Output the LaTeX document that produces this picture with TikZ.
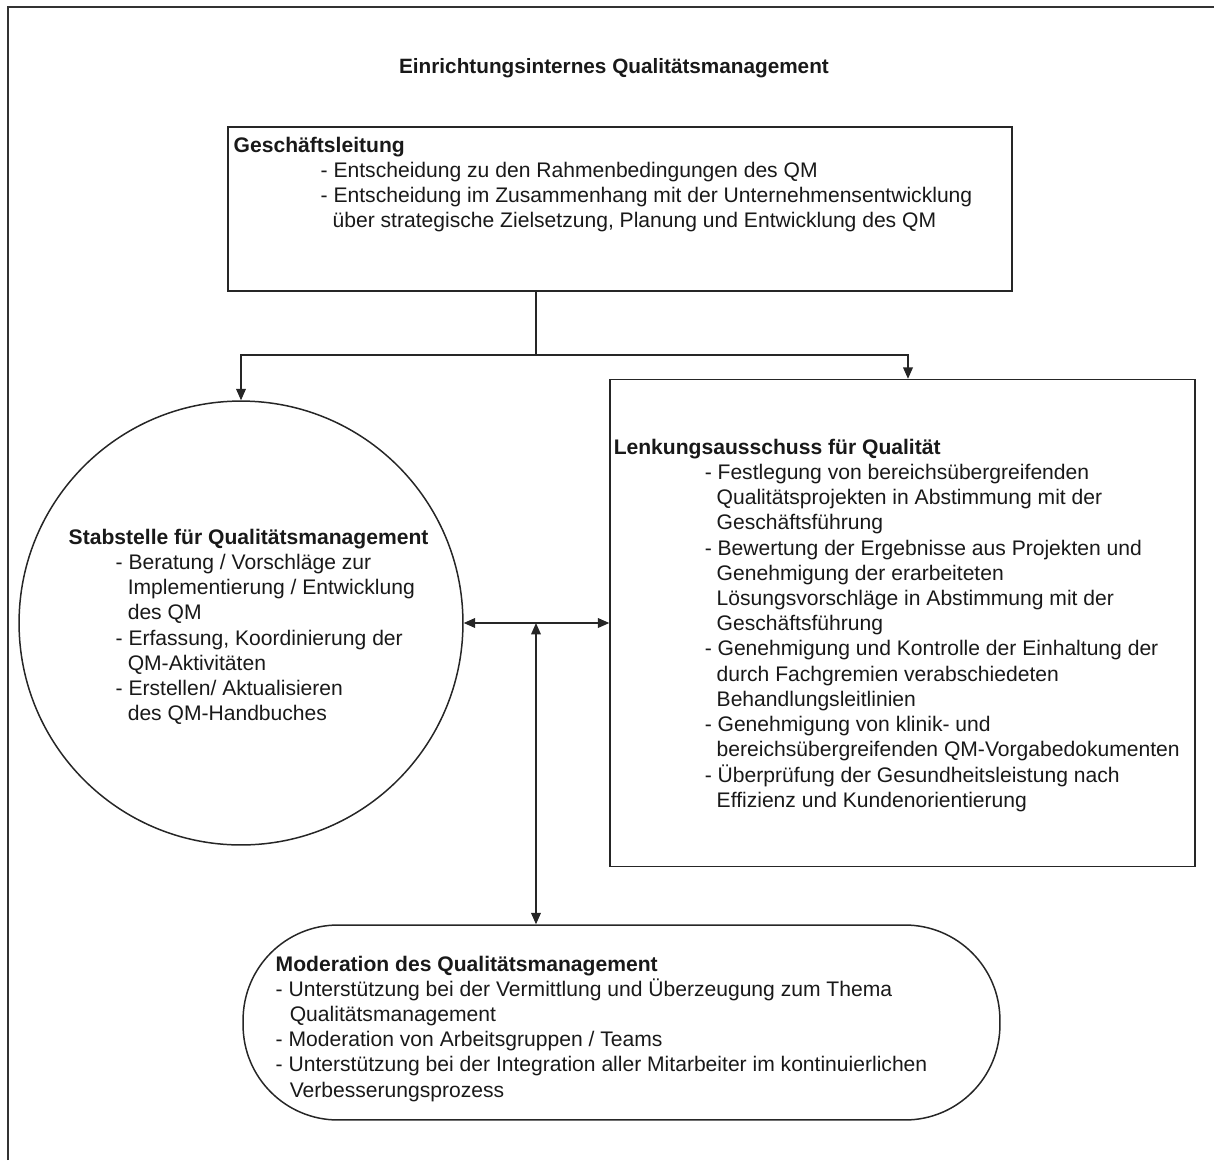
\documentclass[tikz,border=0pt]{standalone}
\usepackage{fontspec}
\setmainfont{Liberation Sans}
\usetikzlibrary{arrows.meta}
\begin{document}
\begin{tikzpicture}[x=0.02cm,y=-0.02cm, line width=0.85pt,
  box/.style={draw=black!85, rectangle, inner sep=0},
  txt/.style={anchor=north west, inner sep=0, align=left, text=black!90, font=\fontsize{12}{14.35}\selectfont},
  arr/.style={draw=black!85, -{Triangle[length=6.5pt,width=5.5pt]}},
  darr/.style={draw=black!85, {Triangle[length=6.5pt,width=5.5pt]}-{Triangle[length=6.5pt,width=5.5pt]}}]
\useasboundingbox (0,0) rectangle (1214,1160);
\draw[line width=1.2pt, black!80] (8,1160) -- (8,7) -- (1214,7);

\node[font=\bfseries\fontsize{11.8}{13}\selectfont, text=black!90] (title) at (614,68) {Einrichtungsinternes Qualitätsmanagement};

% shapes
\node[box, minimum width=15.68cm, minimum height=3.28cm] (gl) at (620,209) {};
\node[draw=black!85, circle, minimum size=8.88cm, inner sep=0] (st) at (241,623) {};
\node[box, minimum width=11.7cm, minimum height=9.74cm] (lk) at (902.5,623) {};
\node[draw=black!85, rectangle, rounded corners=1.9cm, minimum width=15.14cm, minimum height=3.9cm, inner sep=0] (mod) at (621.5,1022.5) {};

% connectors
\coordinate (j) at (536,355);
\coordinate (k) at (908,355);
\coordinate (m) at (536,623);
\draw[draw=black!85] (gl.south -| j) -- (j);
\draw[arr] (j) -| (st.north);
\draw[arr] (j) -- (k) -- (k |- lk.north);
\draw[darr] (st.east) -- (lk.west);
\draw[darr] (m) -- (m |- mod.north);

% texts
\node[txt] (glt) at (233,130.2) {\rule{0pt}{12pt}\textbf{Geschäftsleitung}\\
\hspace*{49.5pt}- Entscheidung zu den Rahmenbedingungen des QM\\
\hspace*{49.5pt}- Entscheidung im Zusammenhang mit der Unternehmensentwicklung\\
\hspace*{56.3pt}über strategische Zielsetzung, Planung und Entwicklung des QM};

\node[txt] (stt) at (68,522.4) {\rule{0pt}{12pt}\textbf{Stabstelle für Qualitätsmanagement}\\
\hspace*{26.7pt}- Beratung / Vorschläge zur\\
\hspace*{33.6pt}Implementierung / Entwicklung\\
\hspace*{33.6pt}des QM\\
\hspace*{26.7pt}- Erfassung, Koordinierung der\\
\hspace*{33.6pt}QM-Aktivitäten\\
\hspace*{26.7pt}- Erstellen/ Aktualisieren\\
\hspace*{33.6pt}des QM-Handbuches};

\node[txt] (lkt) at (613,432.4) {\rule{0pt}{12pt}\textbf{Lenkungsausschuss für Qualität}\\
\hspace*{51.8pt}- Festlegung von bereichsübergreifenden\\
\hspace*{58.6pt}Qualitätsprojekten in Abstimmung mit der\\
\hspace*{58.6pt}Geschäftsführung\\
\hspace*{51.8pt}- Bewertung der Ergebnisse aus Projekten und\\
\hspace*{58.6pt}Genehmigung der erarbeiteten\\
\hspace*{58.6pt}Lösungsvorschläge in Abstimmung mit der\\
\hspace*{58.6pt}Geschäftsführung\\
\hspace*{51.8pt}- Genehmigung und Kontrolle der Einhaltung der\\
\hspace*{58.6pt}durch Fachgremien verabschiedeten\\
\hspace*{58.6pt}Behandlungsleitlinien\\
\hspace*{51.8pt}- Genehmigung von klinik- und\\
\hspace*{58.6pt}bereichsübergreifenden QM-Vorgabedokumenten\\
\hspace*{51.8pt}- Überprüfung der Gesundheitsleistung nach\\
\hspace*{58.6pt}Effizienz und Kundenorientierung};

\node[txt] (modt) at (275,949.2) {\rule{0pt}{12pt}\textbf{Moderation des Qualitätsmanagement}\\
- Unterstützung bei der Vermittlung und Überzeugung zum Thema\\
\hspace*{8pt}Qualitätsmanagement\\
- Moderation von Arbeitsgruppen / Teams\\
- Unterstützung bei der Integration aller Mitarbeiter im kontinuierlichen\\
\hspace*{8pt}Verbesserungsprozess};
\end{tikzpicture}
\end{document}
